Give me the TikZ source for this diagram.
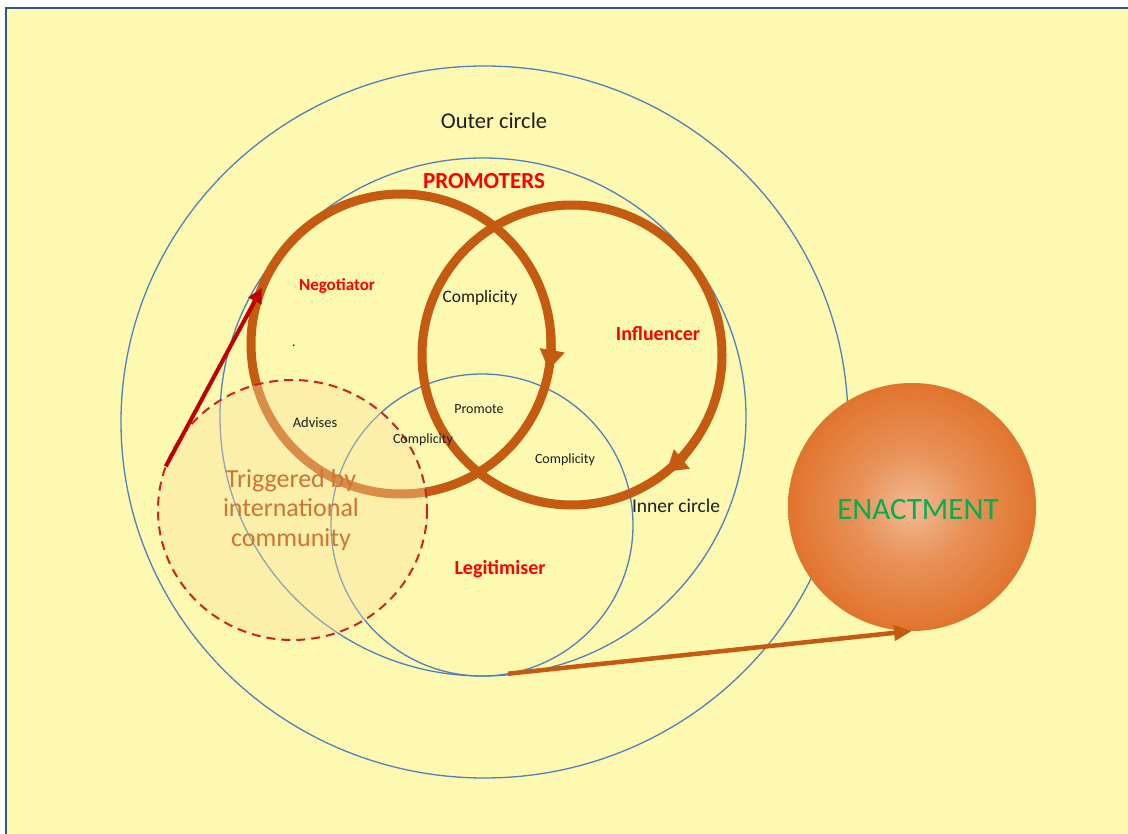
\documentclass[tikz,border=0pt]{standalone}
\usepackage{fontspec}
\setmainfont{Carlito}
\usetikzlibrary{arrows.meta,shapes.geometric}

\definecolor{paper}{RGB}{253,249,176}
\definecolor{frame}{RGB}{47,85,151}
\definecolor{ringblue}{RGB}{79,129,189}
\definecolor{burnt}{RGB}{197,90,17}
\definecolor{darkred}{RGB}{192,0,0}
\definecolor{dashred}{RGB}{205,35,40}
\definecolor{haze}{RGB}{250,225,160}
\definecolor{trigtext}{RGB}{208,116,52}
\definecolor{enactgreen}{RGB}{0,176,80}
\definecolor{labelred}{RGB}{255,0,0}
\definecolor{labelink}{RGB}{30,30,30}
\definecolor{ballA}{RGB}{242,186,148}
\definecolor{ballB}{RGB}{224,114,42}
\definecolor{ballC}{RGB}{184,82,24}

% soft highlight in the middle of the ENACTMENT ball
\pgfdeclareradialshading{enactball}{\pgfpoint{0bp}{0bp}}{%
  color(0bp)=(ballA); color(11bp)=(ballB!55!ballA); color(26bp)=(ballB);
  color(44bp)=(ballC); color(50bp)=(ballC)}

\tikzset{
  ring/.style={draw=ringblue, line width=1.3pt, inner sep=0pt, outer sep=0pt},
  loopring/.style={circle, draw=burnt, line width=9pt, inner sep=0pt, outer sep=0pt, minimum size=300pt},
  looptip/.style={draw=burnt, line width=9pt, -{Triangle[width=24pt,length=20pt]}},
  label/.style={inner sep=0pt, text=labelink},
  rolelabel/.style={inner sep=0pt, text=labelred, font=\bfseries\fontsize{17}{20}\selectfont},
  smalllabel/.style={inner sep=0pt, text=labelink, font=\fontsize{14}{17}\selectfont},
}

\begin{document}
\begin{tikzpicture}[x=1pt,y=-1pt]
  \useasboundingbox (0,0) rectangle (1128,834);

  % page background with its frame on the top and left edges
  \fill[paper] (6,8) rectangle (1128,834);
  \draw[frame, line width=2pt] (6,834) -- (6,8) -- (1128,8);

  % nested blue circles
  \node[ring, ellipse, minimum width=727pt, minimum height=712pt] (outer) at (484.5,422) {};
  \node[ring, ellipse, minimum width=526pt, minimum height=518pt] (inner) at (483,417) {};
  \node[ring, circle, minimum size=302pt] (legit) at (482,525) {};

  % the two promoter loops
  \node[loopring] (neg) at (401,344) {};
  \node[loopring] (infl) at (572,355) {};
  \draw[looptip] (neg.5) arc[start angle=-5, end angle=10, radius=150];
  \draw[looptip] (infl.-33) arc[start angle=33, end angle=51, radius=150];

  % dashed trigger circle, translucent over the loops
  \node[ellipse, minimum width=269pt, minimum height=260pt, inner sep=0pt, outer sep=0pt,
        fill=haze, fill opacity=0.38] (trig) at (292.5,510) {};
  \draw[dashred, line width=2pt, dash pattern=on 9pt off 6pt] (trig.center) ellipse[x radius=134.5, y radius=130];

  % ENACTMENT ball
  \node[circle, minimum size=248pt, inner sep=0pt, outer sep=0pt, shading=enactball] (enact) at (912,507) {};

  % connectors
  \draw[darkred, line width=4pt, -{Triangle[width=14pt,length=15pt]}] (trig.161) -- (neg.158);
  \draw[burnt, line width=4.5pt, -{Triangle[width=15pt,length=18pt]}] (legit.-80) -- (enact.south);

  % labels
  \node[label, font=\fontsize{22.5}{27}\selectfont] (outerlbl) at (494,121) {Outer circle};
  \node[label, text=labelred, font=\bfseries\fontsize{23}{27}\selectfont] (promlbl) at (484,181) {PROMOTERS};
  \node[rolelabel] (neglbl) at (337,286) {Negotiator};
  \node[label, font=\fontsize{17.5}{21}\selectfont] (compA) at (480,298) {Complicity};
  \node[rolelabel, font=\bfseries\fontsize{20}{24}\selectfont] (infllbl) at (658,334) {Influencer};
  \node[label, anchor=base, font=\fontsize{14}{17}\selectfont] (dot) at (294,347) {.};
  \node[smalllabel] (promote) at (479,409) {Promote};
  \node[smalllabel, font=\fontsize{14.5}{17}\selectfont] (advises) at (315,423) {Advises};
  \node[smalllabel] (compB) at (423,440) {Complicity};
  \node[smalllabel] (compC) at (565,460) {Complicity};
  \node[label, font=\fontsize{19.5}{23}\selectfont] (innerlbl) at (676,506) {Inner circle};
  \node[inner sep=0pt, text=trigtext, align=center, font=\fontsize{26}{29.5}\selectfont] (triglbl) at (291,510)
       {Triggered by\\international\\community};
  \node[rolelabel, font=\bfseries\fontsize{20}{24}\selectfont] (legitlbl) at (500,569) {Legitimiser};
  \node[inner sep=0pt, text=enactgreen, font=\fontsize{31}{37}\selectfont] (enactlbl) at (918,510) {ENACTMENT};
\end{tikzpicture}
\end{document}
